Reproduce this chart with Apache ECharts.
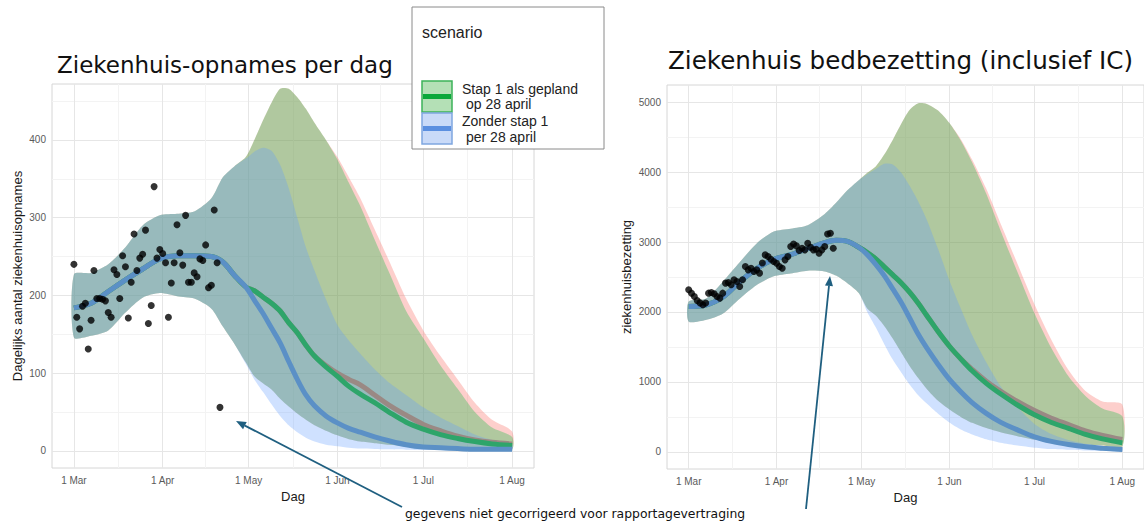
<!DOCTYPE html>
<html><head><meta charset="utf-8">
<script src="https://cdn.jsdelivr.net/npm/echarts@6/dist/echarts.min.js"></script>
<style>html,body{margin:0;padding:0;background:#fff}#c{width:1144px;height:523px}</style>
</head><body><div id="c"></div>
<script>
// ---- axis ticks ----
const tickDays   = [0, 31, 61, 92, 122, 153];
const tickLabels = ['1 Mar', '1 Apr', '1 May', '1 Jun', '1 Jul', '1 Aug'];
const minorDays  = [15.5, 46, 76.5, 107, 137.5];
const opnTicks   = [0, 100, 200, 300, 400];
const opnMinor   = [50, 150, 250, 350, 450];
const bedTicks   = [0, 1000, 2000, 3000, 4000, 5000];
const bedMinor   = [500, 1500, 2500, 3500, 4500];

// ---- model curves (days since 1 Mar) ----
const curveDays = [0,6,12,18,24,30,36,42,48,52,56,60,63,66,69,72,75,78,81,84,88,92,96,100,105,110,116,122,128,134,140,146,153];

// Ziekenhuis-opnames per dag
const opnZonderMed = [184,190,205,220,234,247,251,251,250,243,226,211,194,177,158,139,115,92,72,58,45,36,29,24,18,13,8,5,4,3,2,2,2];
const opnZonderLo  = [146,148,155,178,197,203,199,196,183,160,138,112,92,76,60,45,33,24,17,12,8,6,4,3,2.5,2,1.5,1.2,1,1,1,1,1];
const opnZonderHi  = [227,229,240,262,290,303,305,308,325,352,366,376,385,390,386,368,338,300,262,232,195,162,142,125,105,88,72,56,43,32,21,14,9];
const opnStapMed   = [184,190,205,220,234,247,251,251,250,243,226,211,206,198,190,180,165,152,136,122,108,96,83,73,62,50,37,28,21,16,12,9,7];
const opnStapLo    = [146,148,155,178,197,203,199,196,183,160,138,114,96,87,79,67,57,48,40,33,26,20,15,12,10,8,6,5,4,3,3,2,2];
const opnStapHi    = [227,229,240,262,290,303,305,308,325,352,366,378,400,425,448,466,466,455,440,422,400,375,345,315,272,230,180,145,110,80,50,30,18];
const opnDerdeMed  = [184,190,205,220,234,247,251,251,250,243,226,211,206,198,190,180,165,152,136,122,110,100,92,85,72,59,46,34,26,19,14,11,9];
const opnDerdeLo   = [146,148,155,178,197,203,199,196,183,160,138,114,96,87,79,67,57,48,40,33,26,20,15,12,10,8,6,5,4,3,3,2,2];
const opnDerdeHi   = [227,229,240,262,290,303,305,308,325,352,366,378,400,425,448,466,466,455,440,422,400,378,352,325,285,245,196,155,122,92,62,40,25];

// Ziekenhuis bedbezetting
const bedZonderMed = [2080,2100,2210,2430,2620,2750,2820,2905,2990,3025,3010,2925,2820,2680,2520,2330,2135,1910,1680,1485,1250,1035,860,705,550,425,315,215,150,105,72,52,33];
const bedZonderLo  = [1865,1885,1975,2190,2385,2510,2550,2590,2580,2520,2410,2270,2000,1780,1540,1320,1135,960,810,690,545,420,320,250,180,130,90,60,40,30,20,15,10];
const bedZonderHi  = [2150,2190,2430,2710,2980,3150,3190,3240,3400,3560,3740,3885,3970,4045,4120,4110,3990,3800,3580,3320,2900,2450,2050,1670,1280,940,640,400,255,170,115,85,57];
const bedStapMed   = [2080,2100,2210,2430,2620,2750,2820,2905,2990,3025,3010,2925,2850,2760,2645,2530,2415,2280,2125,1950,1720,1510,1330,1160,980,830,670,530,420,335,250,185,128];
const bedStapLo    = [1865,1885,1975,2190,2385,2510,2550,2590,2580,2520,2410,2270,2050,1950,1800,1620,1420,1225,1055,900,730,605,500,415,340,280,225,175,145,120,100,90,80];
const bedStapHi    = [2150,2190,2430,2710,2980,3150,3190,3240,3400,3560,3740,3885,3990,4080,4250,4460,4690,4890,4985,4975,4880,4700,4450,4140,3690,3170,2570,1980,1480,1080,800,620,509];
const bedDerdeMed  = [2080,2100,2210,2430,2620,2750,2820,2905,2990,3025,3010,2925,2850,2760,2645,2530,2415,2280,2125,1950,1720,1510,1330,1180,1010,870,720,590,480,390,300,235,176];
const bedDerdeLo   = [1865,1885,1975,2190,2385,2510,2550,2590,2580,2520,2410,2270,2050,1950,1800,1620,1420,1225,1055,900,730,605,500,415,340,280,225,175,145,120,100,90,80];
const bedDerdeHi   = [2150,2190,2430,2710,2980,3150,3190,3240,3400,3560,3740,3885,3990,4080,4250,4460,4690,4890,4985,4975,4880,4700,4470,4180,3760,3270,2690,2110,1600,1170,870,720,676];

// ---- observations ----
const obsDays = [0,1,2,3,4,5,6,7,8,9,10,11,12,13,14,15,16,17,18,19,20,21,22,23,24,25,26,27,28,29,30,31,32,33,34,35,36,37,38,39,40,41,42,43,44,45,46,47,48,49,50,51];
const opnameVals = [240,172,157,186,190,131,168,232,196,196,195,193,178,172,233,227,196,251,237,171,217,279,232,248,253,284,164,187,340,248,259,254,242,172,216,242,291,255,239,303,217,217,229,224,247,245,265,210,213,310,242,56];
const bedVals = [2317,2269,2222,2165,2130,2103,2127,2269,2279,2260,2222,2198,2269,2412,2421,2388,2460,2436,2364,2460,2650,2602,2626,2578,2602,2555,2700,2816,2793,2754,2721,2697,2650,2626,2745,2793,2935,2973,2945,2878,2911,2888,2983,2926,2888,2897,2840,2888,2935,3116,3126,2911];

// ---- texts ----
const titleLeft  = 'Ziekenhuis-opnames per dag';
const titleRight = 'Ziekenhuis bedbezetting (inclusief IC)';
const xName = 'Dag';
const yNameLeft = 'Dagelijks aantal ziekenhuisopnames';
const yNameRight = 'ziekenhuisbezetting';
const legendTitle = 'scenario';
const legendStap = ['Stap 1 als gepland', 'op 28 april'];
const legendZonder = ['Zonder stap 1', 'per 28 april'];
const noteText = 'gegevens niet gecorrigeerd voor rapportagevertraging';

// ---- build ----
const chart = echarts.init(document.getElementById('c'), null, {renderer: 'svg'});
const pairs = (xs, ys) => xs.map((x, i) => [x, ys[i]]);
const SM = 0.35;

// ribbon drawn as one polygon through the axis scales (api.coord)
function band(g, lo, hi, color, opacity) {
  const rows = curveDays.map((d, i) => [d, lo[i], hi[i]]);
  return {
    type: 'custom', xAxisIndex: g * 2, yAxisIndex: g * 2, silent: true, z: 1,
    data: rows, encode: {x: 0, y: [1, 2]}, clip: true,
    renderItem: function (params, api) {
      if (params.dataIndex !== 0) return null;
      const top = rows.map(r => api.coord([r[0], r[2]]));
      const bot = rows.slice().reverse().map(r => api.coord([r[0], r[1]]));
      return {type: 'polygon', shape: {points: top.concat(bot), smooth: 0.25},
              style: {fill: color, opacity: opacity}};
    }
  };
}
function med(g, vals, color) {
  return {type: 'line', xAxisIndex: g * 2, yAxisIndex: g * 2,
    data: pairs(curveDays, vals), symbol: 'none', smooth: SM, silent: true,
    lineStyle: {width: 5, color: color}, z: 3};
}

const RED = '#F8766D', GREEN = '#00BA38', BLUE = '#619CFF';
const tickFont = {color: '#5a5a5a', fontSize: 10, fontFamily: 'Liberation Sans'};
const nameFont = {color: '#1a1a1a', fontSize: 13, fontFamily: 'Liberation Sans'};

function xAxes(g) {
  return [
    {gridIndex: g, type: 'value', min: -7.65, max: 160.65,
     axisLine: {show: false}, axisTick: {show: false, customValues: tickDays},
     axisLabel: Object.assign({customValues: tickDays, margin: 7,
       formatter: v => { const i = tickDays.indexOf(v); return i >= 0 ? tickLabels[i] : ''; }}, tickFont),
     splitLine: {show: true, lineStyle: {color: '#e6e6e6', width: 1}},
     name: xName, nameLocation: 'middle', nameGap: 22, nameTextStyle: nameFont},
    {gridIndex: g, type: 'value', min: -7.65, max: 160.65,
     axisLine: {show: false}, axisTick: {show: false, customValues: minorDays},
     axisLabel: {show: false, customValues: minorDays},
     splitLine: {show: true, lineStyle: {color: '#f3f3f3', width: 1}}}
  ];
}
function yAxes(g, min, max, ticks, minor, name, gap) {
  return [
    {gridIndex: g, type: 'value', min: min, max: max,
     axisLine: {show: false}, axisTick: {show: false, customValues: ticks},
     axisLabel: Object.assign({customValues: ticks, margin: 6, formatter: v => String(v)}, tickFont),
     splitLine: {show: true, lineStyle: {color: '#e6e6e6', width: 1}},
     name: name, nameLocation: 'middle', nameGap: gap, nameTextStyle: nameFont},
    {gridIndex: g, type: 'value', min: min, max: max, position: 'left',
     axisLine: {show: false}, axisTick: {show: false, customValues: minor},
     axisLabel: {show: false, customValues: minor},
     splitLine: {show: true, lineStyle: {color: '#f3f3f3', width: 1}}}
  ];
}

function arrow(x1, y1, x2, y2, color) {
  const dx = x2 - x1, dy = y2 - y1, L = Math.hypot(dx, dy);
  const ux = dx / L, uy = dy / L, hl = 10, hw = 4;
  const bx = x2 - ux * hl, by = y2 - uy * hl;
  return [
    {type: 'line', shape: {x1: x1, y1: y1, x2: bx, y2: by}, style: {stroke: color, lineWidth: 1.8}, z: 20},
    {type: 'polygon', shape: {points: [[x2, y2], [bx - uy * hw, by + ux * hw], [bx + uy * hw, by - ux * hw]]},
     style: {fill: color}, z: 20}
  ];
}

const legendFont = '14px "Liberation Sans"';
const graphic = [
  {type: 'rect', shape: {x: 412, y: 7, width: 192, height: 142}, style: {fill: '#fff', stroke: '#8a8a8a', lineWidth: 1}, z: 10},
  {type: 'text', style: {text: legendTitle, x: 422, y: 32, font: '16px "Liberation Sans"', fill: '#222', verticalAlign: 'middle'}, z: 11},
  {type: 'rect', shape: {x: 422, y: 81, width: 30, height: 31}, style: {fill: '#b4e0b6', stroke: '#3cb35a', lineWidth: 1.5}, z: 11},
  {type: 'rect', shape: {x: 423, y: 94, width: 28, height: 5}, style: {fill: '#0aa83a'}, z: 12},
  {type: 'rect', shape: {x: 422, y: 113, width: 30, height: 31}, style: {fill: '#c9daf8', stroke: '#7fa6e0', lineWidth: 1.5}, z: 11},
  {type: 'rect', shape: {x: 423, y: 126, width: 28, height: 5}, style: {fill: '#5b8fe0'}, z: 12},
  {type: 'text', style: {text: legendStap[0], x: 462, y: 89, font: legendFont, fill: '#222', verticalAlign: 'middle'}, z: 11},
  {type: 'text', style: {text: legendStap[1], x: 466, y: 104, font: legendFont, fill: '#222', verticalAlign: 'middle'}, z: 11},
  {type: 'text', style: {text: legendZonder[0], x: 462, y: 121, font: legendFont, fill: '#222', verticalAlign: 'middle'}, z: 11},
  {type: 'text', style: {text: legendZonder[1], x: 466, y: 137, font: legendFont, fill: '#222', verticalAlign: 'middle'}, z: 11},
  {type: 'text', style: {text: noteText, x: 405, y: 513, font: '12.4px "DejaVu Sans"', fill: '#111', verticalAlign: 'middle'}, z: 11}
].concat(arrow(402, 507, 236, 421, '#1f5f80'), arrow(806, 509, 830, 276, '#1f5f80'));

const series = [
  band(0, opnDerdeLo, opnDerdeHi, RED, 0.35),
  band(0, opnStapLo, opnStapHi, GREEN, 0.3),
  band(0, opnZonderLo, opnZonderHi, BLUE, 0.3),
  med(0, opnDerdeMed, '#9a8984'), med(0, opnStapMed, '#2ea56a'), med(0, opnZonderMed, '#5b90c6'),
  {type: 'scatter', xAxisIndex: 0, yAxisIndex: 0, data: pairs(obsDays, opnameVals), symbolSize: 7, itemStyle: {color: '#000'}, z: 5},
  band(1, bedDerdeLo, bedDerdeHi, RED, 0.35),
  band(1, bedStapLo, bedStapHi, GREEN, 0.3),
  band(1, bedZonderLo, bedZonderHi, BLUE, 0.3),
  med(1, bedDerdeMed, '#9a8984'), med(1, bedStapMed, '#2ea56a'), med(1, bedZonderMed, '#5b90c6'),
  {type: 'scatter', xAxisIndex: 2, yAxisIndex: 2, data: pairs(obsDays, bedVals), symbolSize: 7, itemStyle: {color: '#000'}, z: 5}
];

chart.setOption({
  animation: false,
  backgroundColor: '#fff',
  title: [
    {text: titleLeft, left: 57, top: 53, padding: 0, textStyle: {fontFamily: 'DejaVu Sans', fontSize: 23, fontWeight: 'normal', color: '#111'}},
    {text: titleRight, left: 668, top: 48, padding: 0, textStyle: {fontFamily: 'DejaVu Sans', fontSize: 24.6, fontWeight: 'normal', color: '#111'}}
  ],
  grid: [
    {left: 52, top: 84, width: 482, height: 384, show: true, borderColor: '#d6d6d6', borderWidth: 1, backgroundColor: 'transparent'},
    {left: 667, top: 85, width: 482, height: 384, show: true, borderColor: '#d6d6d6', borderWidth: 1, backgroundColor: 'transparent'}
  ],
  xAxis: xAxes(0).concat(xAxes(1)),
  yAxis: yAxes(0, -22, 472, opnTicks, opnMinor, yNameLeft, 28).concat(yAxes(1, -245, 5245, bedTicks, bedMinor, yNameRight, 34)),
  series: series,
  graphic: graphic
});
</script></body></html>
